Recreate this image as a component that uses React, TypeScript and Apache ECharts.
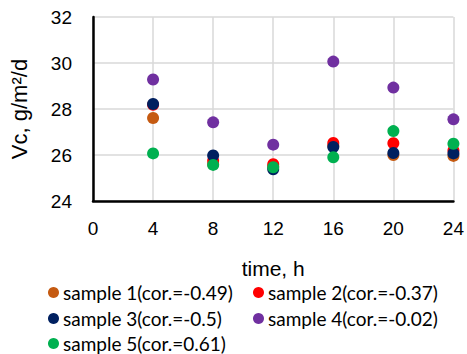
import React, { useEffect, useRef } from "react";
import * as echarts from "echarts";

const hours = [4, 8, 12, 16, 20, 24];
const seriesNames = [
  "sample 1(cor.=-0.49)",
  "sample 2(cor.=-0.37)",
  "sample 3(cor.=-0.5)",
  "sample 4(cor.=-0.02)",
  "sample 5(cor.=0.61)",
];
const sample1 = [27.61, 25.6, 25.5, 26.4, 26.0, 25.96];
const sample2 = [28.18, 25.75, 25.6, 26.52, 26.51, 26.2];
const sample3 = [28.22, 25.98, 25.38, 26.35, 26.09, 26.07];
const sample4 = [29.28, 27.42, 26.45, 30.06, 28.93, 27.55];
const sample5 = [26.07, 25.57, 25.47, 25.9, 27.04, 26.49];
const colors = ["#C55A11", "#FF0000", "#002060", "#7030A0", "#00B050"];
const xTicks = { min: 0, max: 24, interval: 4 };
const yTicks = { min: 24, max: 32, interval: 2 };

const FONT = "'Liberation Sans', sans-serif";
const LEGEND_FONT = "Lato, 'Liberation Sans', sans-serif";

export default function App() {
  const ref = useRef<HTMLDivElement>(null);
  useEffect(() => {
    if (!ref.current) return;
    const chart = echarts.init(ref.current, null, { renderer: "svg" });
    const all = [sample1, sample2, sample3, sample4, sample5];
    const legendPos = [
      { left: 48, top: 283 },
      { left: 253, top: 283 },
      { left: 48, top: 309 },
      { left: 253, top: 309 },
      { left: 48, top: 334 },
    ];
    chart.setOption({
      animation: false,
      textStyle: { fontFamily: FONT },
      grid: { left: 88, right: 12, top: 17, bottom: 153 },
      xAxis: {
        type: "value",
        min: xTicks.min,
        max: xTicks.max,
        interval: xTicks.interval,
        name: "time, h",
        nameLocation: "middle",
        nameGap: 57,
        nameTextStyle: { fontSize: 21, color: "#000", fontFamily: FONT },
        axisLine: { show: true, onZero: false, lineStyle: { color: "#000", width: 2.5 } },
        axisTick: { show: false },
        axisLabel: { fontSize: 19, color: "#000", margin: 18, fontFamily: FONT },
        splitLine: { show: true, lineStyle: { color: "#D9D9D9", width: 1.5 } },
      },
      yAxis: {
        type: "value",
        min: yTicks.min,
        max: yTicks.max,
        interval: yTicks.interval,
        name: "Vc, g/m²/d",
        nameLocation: "middle",
        nameGap: 63,
        nameTextStyle: { fontSize: 22, color: "#000", fontFamily: FONT },
        axisLine: { show: true, onZero: false, lineStyle: { color: "#000", width: 2.5 } },
        axisTick: { show: false },
        axisLabel: { fontSize: 19, color: "#000", margin: 21, fontFamily: FONT },
        splitLine: { show: true, lineStyle: { color: "#D9D9D9", width: 1.5 } },
      },
      legend: seriesNames.map((n, i) => ({
        data: [n],
        left: legendPos[i].left,
        top: legendPos[i].top,
        padding: 0,
        icon: "circle",
        itemWidth: 11,
        itemHeight: 11,
        itemGap: 0,
        textStyle: { fontSize: 19, color: "#000", fontFamily: LEGEND_FONT, padding: [0, 0, 0, -1] },
      })),
      series: all.map((d, i) => ({
        type: "scatter",
        name: seriesNames[i],
        symbol: "circle",
        symbolSize: 12,
        itemStyle: { color: colors[i], opacity: 1 },
        data: hours.map((h, j) => [h, d[j]]),
      })),
    });
    return () => chart.dispose();
  }, []);
  return (
    <div
      ref={ref}
      style={{ position: "fixed", left: 0, top: 0, width: 467, height: 354, background: "#fff" }}
    />
  );
}
